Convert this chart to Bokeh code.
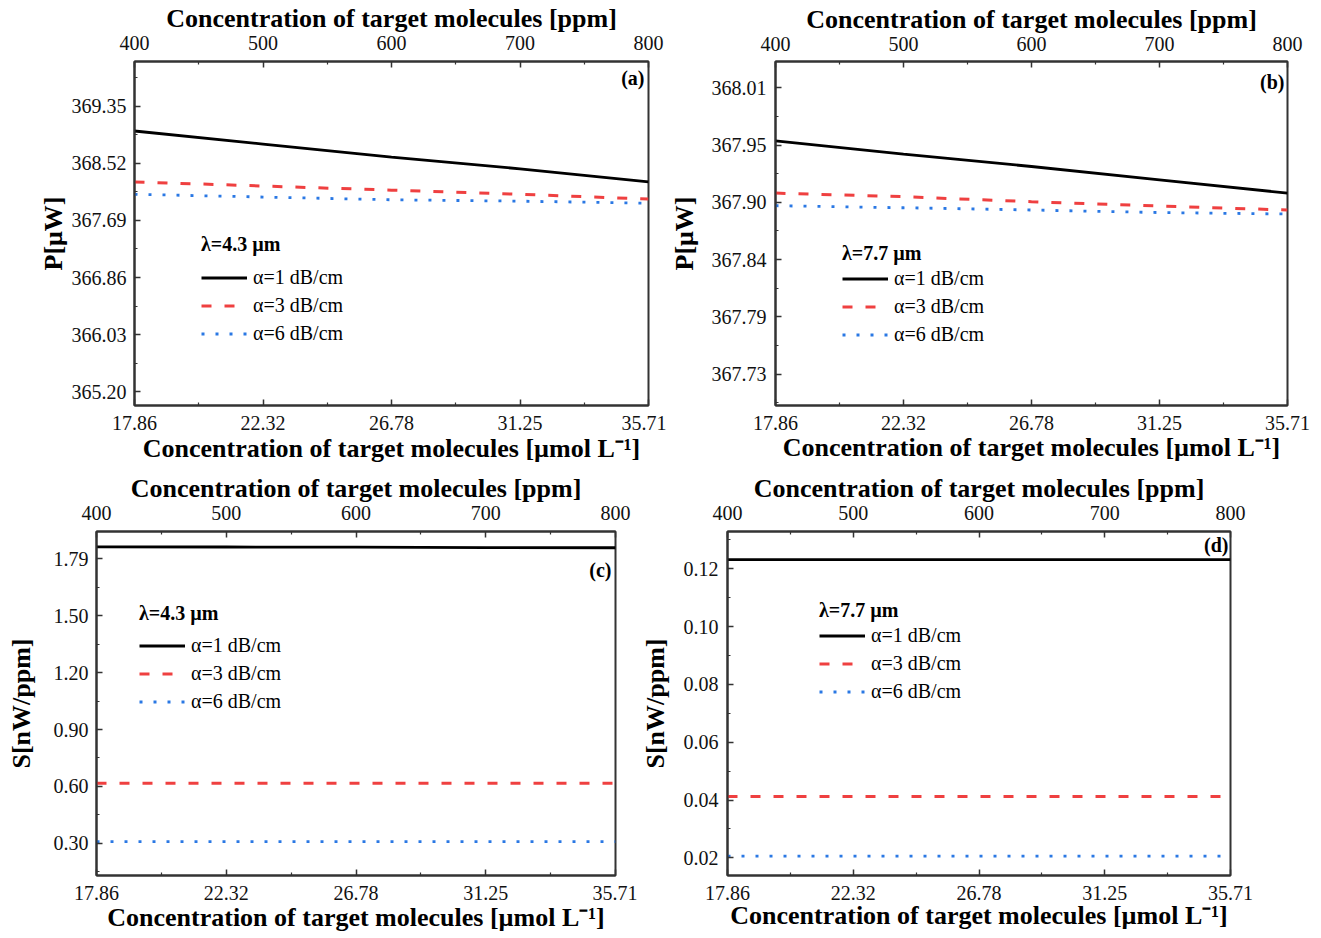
from bokeh.plotting import figure
from bokeh.models import LinearAxis, FixedTicker, Range1d, Legend, LegendItem, Label
from bokeh.layouts import column, row
from bokeh.embed import file_html
from bokeh.resources import INLINE

# ---------------- data ----------------
ppm = [400, 500, 600, 700, 800]
ppm_minor = [450, 550, 650, 750]
umol_labels = ["17.86", "22.32", "26.78", "31.25", "35.71"]

# (a) P [uW], lambda = 4.3 um
a_black = [368.99, 368.80, 368.61, 368.44, 368.25]
a_red = [368.25, 368.19, 368.13, 368.07, 368.00]
a_blue = [368.07, 368.03, 367.99, 367.97, 367.94]
a_yticks = [365.20, 366.03, 366.86, 367.69, 368.52, 369.35]
a_ylabels = ["365.20", "366.03", "366.86", "367.69", "368.52", "369.35"]
a_yrange = [365.0, 370.0]

# (b) P [uW], lambda = 7.7 um
b_black = [367.958, 367.945, 367.933, 367.920, 367.907]
b_red = [367.907, 367.9035, 367.8986, 367.8944, 367.8905]
b_blue = [367.8947, 367.8927, 367.8905, 367.888, 367.8866]
b_yticks = [367.73, 367.786, 367.842, 367.898, 367.954, 368.01]
b_ylabels = ["367.73", "367.79", "367.84", "367.90", "367.95", "368.01"]
b_yrange = [367.6995, 368.0356]

# (c) S [nW/ppm], lambda = 4.3 um
c_black = [1.856, 1.855, 1.854, 1.852, 1.851]
c_red = [0.615, 0.615, 0.615, 0.615, 0.615]
c_blue = [0.308, 0.308, 0.308, 0.308, 0.308]
c_yticks = [0.299, 0.598, 0.897, 1.196, 1.495, 1.794]
c_ylabels = ["0.30", "0.60", "0.90", "1.20", "1.50", "1.79"]
c_yrange = [0.1306, 1.9364]

# (d) S [nW/ppm], lambda = 7.7 um
d_black = [0.1232, 0.1232, 0.1232, 0.1232, 0.1232]
d_red = [0.0412, 0.0412, 0.0412, 0.0412, 0.0412]
d_blue = [0.0206, 0.0206, 0.0206, 0.0206, 0.0206]
d_yticks = [0.02, 0.04, 0.06, 0.08, 0.10, 0.12]
d_ylabels = ["0.02", "0.04", "0.06", "0.08", "0.10", "0.12"]
d_yrange = [0.0139, 0.1329]

series_names = ["α=1 dB/cm", "α=3 dB/cm", "α=6 dB/cm"]

# ---------------- styling ----------------
FONT = "Liberation Serif"
AX = "#333333"
RED = "#ef4040"
BLUE = "#2a78e4"
TOP_TITLE = "Concentration of target molecules [ppm]"
BOT_TITLE = "Concentration of target molecules [µmol L⁻¹]"


def style_axis(ax, lab_std, title_std):
    ax.axis_line_color = AX
    ax.axis_line_width = 2
    ax.major_tick_in = 6
    ax.major_tick_out = 0
    ax.minor_tick_in = 3
    ax.minor_tick_out = 0
    ax.major_tick_line_color = AX
    ax.minor_tick_line_color = AX
    ax.major_tick_line_width = 1.5
    ax.minor_tick_line_width = 1.2
    ax.major_label_text_font = FONT
    ax.major_label_text_font_size = "20px"
    ax.major_label_text_color = "#111111"
    ax.major_label_standoff = lab_std
    ax.axis_label_text_font = FONT
    ax.axis_label_text_font_size = "26px"
    ax.axis_label_text_font_style = "bold"
    ax.axis_label_text_color = "#000000"
    ax.axis_label_standoff = title_std


def make_panel(w, h, borders, yr, yticks, ylabels, ytitle, ys, lam,
               leg_loc, leg_tstd, tag, tag_off, title_std, std):
    bl, br, bt, bb = borders
    p = figure(width=w, height=h, x_range=Range1d(400, 800),
               y_range=Range1d(yr[0], yr[1]),
               output_backend="svg", toolbar_location=None,
               min_border_left=bl, min_border_right=br,
               min_border_top=bt, min_border_bottom=bb,
               title=TOP_TITLE, title_location="above")
    p.title.align = "center"
    p.title.text_font = FONT
    p.title.text_font_size = "26px"
    p.title.text_font_style = "bold"
    p.title.text_color = "#000000"
    p.title.standoff = title_std
    p.title.offset = 0
    p.xgrid.visible = False
    p.ygrid.visible = False
    p.outline_line_color = AX
    p.outline_line_width = 2
    p.outline_line_alpha = 1

    # bottom axis: umol/L
    xa = p.xaxis[0]
    xa.ticker = FixedTicker(ticks=ppm, minor_ticks=ppm_minor)
    xa.major_label_overrides = {t: l for t, l in zip(ppm, umol_labels)}
    xa.axis_label = BOT_TITLE
    style_axis(xa, std["bl"], std["bt"])

    # top axis: ppm (its title is the figure title placed above it)
    top = LinearAxis(ticker=FixedTicker(ticks=ppm, minor_ticks=ppm_minor))
    style_axis(top, std["tl"], 0)
    p.add_layout(top, "above")

    # left axis
    step = yticks[1] - yticks[0]
    minors = [t + step / 2 for t in yticks] + [yticks[0] - step / 2]
    minors = [m for m in minors if yr[0] < m < yr[1]]
    ya = p.yaxis[0]
    ya.ticker = FixedTicker(ticks=yticks, minor_ticks=minors)
    ya.major_label_overrides = {t: l for t, l in zip(yticks, ylabels)}
    ya.axis_label = ytitle
    style_axis(ya, std["ll"], std["lt"])

    r1 = p.line(ppm, ys[0], line_color="#000000", line_width=2.8)
    r2 = p.line(ppm, ys[1], line_color=RED, line_width=3, line_dash="10 13")
    r3 = p.line(ppm, ys[2], line_color=BLUE, line_width=2.8, line_dash="3 11")

    legend = Legend(
        items=[LegendItem(label=series_names[0], renderers=[r1]),
               LegendItem(label=series_names[1], renderers=[r2]),
               LegendItem(label=series_names[2], renderers=[r3])],
        title=lam, location=leg_loc,
        border_line_alpha=0, background_fill_alpha=0,
        padding=0, margin=0, spacing=5,
        label_height=23, glyph_height=23, glyph_width=46, label_standoff=6,
        label_text_font=FONT, label_text_font_size="20px",
        label_text_color="#000000",
        title_text_font=FONT, title_text_font_size="20px",
        title_text_font_style="bold", title_text_color="#000000",
        title_standoff=leg_tstd,
    )
    p.add_layout(legend)

    p.add_layout(Label(x=800, y=yr[1], x_offset=-tag_off[0], y_offset=-tag_off[1],
                       text=tag, text_align="right", text_baseline="middle",
                       text_font=FONT, text_font_size="20px",
                       text_font_style="bold", text_color="#000000"))
    return p


pa = make_panel(666, 465, (134, 18, 60, 59), a_yrange, a_yticks, a_ylabels, "P[μW]",
                (a_black, a_red, a_blue), "λ=4.3 µm", (67, 60), 10, "(a)", (4, 16), 0,
                dict(bl=10, bt=1, tl=12, ll=8, lt=1))
pb = make_panel(655, 465, (107, 34, 61, 59), b_yrange, b_yticks, b_ylabels, "P[μW]",
                (b_black, b_red, b_blue), "λ=7.7 µm", (67, 59), 2, "(b)", (3, 20), 0,
                dict(bl=10, bt=0, tl=11, ll=9, lt=10))
pc = make_panel(637, 472, (96, 22, 64, 62), c_yrange, c_yticks, c_ylabels, "S[nW/ppm]",
                (c_black, c_red, c_blue), "λ=4.3 µm", (43, 162), 9, "(c)", (4, 38), 0,
                dict(bl=10, bt=0, tl=12, ll=8, lt=15))
pd = make_panel(684, 472, (84, 91, 66, 62), d_yrange, d_yticks, d_ylabels, "S[nW/ppm]",
                (d_black, d_red, d_blue), "λ=7.7 µm", (92, 172), 2, "(d)", (2, 13), 0,
                dict(bl=10, bt=-2, tl=12, ll=9, lt=11))

layout = column(row(pa, pb), row(pc, pd))

open("out.html", "w").write(file_html(layout, INLINE))
